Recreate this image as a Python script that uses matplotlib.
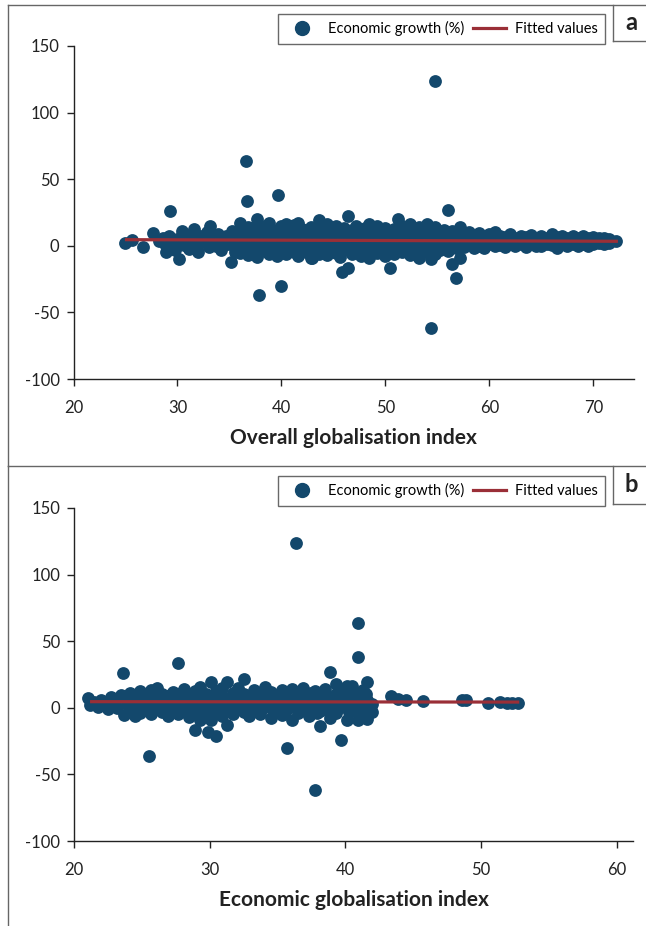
import numpy as np
import matplotlib
matplotlib.use("Agg")
import matplotlib.pyplot as plt
from matplotlib.lines import Line2D

plt.rcParams['font.family'] = ['Lato', 'DejaVu Sans']
plt.rcParams['axes.unicode_minus'] = False

W, H = 646, 926
dot_color = "#13486c"
fit_color = "#9a2f37"
frame_color = "#666666"

# panel a: overall globalisation index vs economic growth (%)
a_x = [25.0, 25.6, 26.7, 27.6, 28.2, 28.6, 28.9, 28.8,
       29.3, 29.2, 29.5, 29.8, 30.1, 30.0, 30.4, 30.6, 30.9, 31.1,
       31.3, 31.6, 31.8, 32.0, 32.2, 32.5, 32.8, 33.0, 33.1, 33.4,
       33.7, 33.9, 34.2, 34.4, 34.7, 34.9, 35.1, 35.2, 35.5,
       35.6, 35.6, 35.6,
       36.0, 36.0, 36.0, 36.0,
       36.4, 36.4, 36.4,
       36.8, 36.8, 36.8, 36.8,
       37.2, 37.2, 37.2, 37.2,
       37.6, 37.6, 37.6, 37.6,
       38.0, 38.0, 38.0, 38.0,
       38.4, 38.4, 38.4, 38.4,
       38.8, 38.8, 38.8, 38.8,
       39.2, 39.2, 39.2, 39.2,
       39.6, 39.6, 39.6, 39.6,
       40.0, 40.0, 40.0, 40.0,
       40.4, 40.4, 40.4, 40.4, 40.4,
       40.8, 40.8, 40.8, 40.8,
       41.2, 41.2, 41.2, 41.2,
       41.6, 41.6, 41.6, 41.6, 41.6,
       42.0, 42.0, 42.0, 42.0,
       42.4, 42.4, 42.4, 42.4,
       42.8, 42.8, 42.8, 42.8,
       43.2, 43.2, 43.2, 43.2,
       43.6, 43.6, 43.6, 43.6,
       44.0, 44.0, 44.0, 44.0,
       44.4, 44.4, 44.4, 44.4,
       44.8, 44.8, 44.8, 44.8,
       45.2, 45.2, 45.2, 45.2,
       45.6, 45.6, 45.6, 45.6,
       46.0, 46.0, 46.0, 46.0,
       46.4, 46.4, 46.4, 46.4, 46.4,
       46.8, 46.8, 46.8, 46.8,
       47.2, 47.2, 47.2, 47.2,
       47.6, 47.6, 47.6, 47.6,
       48.0, 48.0, 48.0, 48.0,
       48.4, 48.4, 48.4, 48.4,
       48.8, 48.8, 48.8, 48.8,
       49.2, 49.2, 49.2, 49.2,
       49.6, 49.6, 49.6, 49.6,
       50.0, 50.0, 50.0, 50.0,
       50.4, 50.4, 50.4, 50.4,
       50.8, 50.8, 50.8, 50.8,
       51.2, 51.2, 51.2, 51.2,
       51.6, 51.6, 51.6, 51.6,
       52.0, 52.0, 52.0, 52.0,
       52.4, 52.4, 52.4, 52.4,
       52.8, 52.8, 52.8, 52.8,
       53.2, 53.2, 53.2, 53.2,
       53.6, 53.6, 53.6, 53.6,
       54.0, 54.0, 54.0, 54.0,
       54.4, 54.4, 54.4, 54.4, 54.4,
       54.8, 54.8, 54.8, 54.8, 54.8,
       55.2, 55.2, 55.2, 55.2,
       55.6, 55.6, 55.6, 55.6,
       56.0, 56.0, 56.0, 56.0,
       56.4, 56.4, 56.4, 56.4,
       56.8, 56.8, 56.8, 56.8,
       57.2, 57.2, 57.2, 57.2,
       57.6, 57.6, 57.6, 58.0, 58.0, 58.0, 58.5, 58.5, 58.5,
       59.0, 59.0, 59.0, 59.5, 59.5, 59.5, 60.0, 60.0, 60.0,
       60.5, 60.5, 60.5, 61.0, 61.0, 61.0, 61.5, 61.5, 61.5,
       62.0, 62.0, 62.0, 62.5, 62.5, 62.5, 63.0, 63.0, 63.0,
       63.5, 63.5, 63.5, 64.0, 64.0, 64.0, 64.5, 64.5, 64.5,
       65.0, 65.0, 65.0, 65.5, 65.5, 65.5, 66.0, 66.0, 66.0,
       66.5, 66.5, 66.5, 67.0, 67.0, 67.0, 67.5, 67.5, 67.5,
       68.0, 68.0, 68.0, 68.5, 68.5, 68.5, 69.0, 69.0, 69.0,
       69.5, 69.5, 69.5, 70.0, 70.0, 70.0, 70.5, 70.5, 70.5,
       71.0, 71.0, 71.0, 71.5, 71.5, 71.5, 72.2,
       36.6, 36.7, 39.7, 37.8, 40.0, 42.9, 45.8]
a_y = [2.2, 4.6, -1.2, 9.5, 3.5, 5.8, -4.8, 1.0,
       26.2, 7.5, 2.0, -3.0, -10.0, 5.0, 11.0, 0.5, 8.0, -2.5,
       4.0, 12.5, 1.5, -4.5, 7.0, 3.0, 10.0, -1.0, 15.0, 5.5,
       0.0, 9.0, -3.5, 3.5, 7.5, 1.0, -12.5, 11.0, -5.0,
       4, 9, -2,
       17, 1.5, 6.5, -5.5,
       3, 11, -1,
       7, -7, 14, 2,
       0, 5, 12.5, -3,
       8.5, 20, 2.5, -8.5,
       4, -1.5, 10.5, 15,
       6, -4, 1, 13,
       9, 3, -6, 17,
       2, 7.5, -2.5, 12,
       5, 11, -8, 0.5,
       3.5, 14.5, -3.5, 8,
       6.5, 1, 10, -6.5, 16.5,
       4.5, -1, 12, 8.5,
       2, 15.5, -4.5, 6,
       9.5, 0, 17, 4, -7.5,
       5.5, 12.5, -2, 2.5,
       7, -5, 10.5, 1.5,
       3, 14, -9.5, 8,
       6, -1.5, 11.5, 2,
       19, 4.5, -6, 9,
       1, 7.5, 13, -3,
       5, 16.5, -7, 10,
       3.5, -2, 8.5, 12,
       6.5, 0.5, 14.5, -5.5,
       2, 10, -8.5, 5,
       7.5, -3.5, 13.5, 3,
       22, 4, -1, 9.5, -16.5,
       1.5, 11.5, -6.5, 6,
       5.5, 15, -2.5, 8.5,
       3, -7.5, 10.5, 0,
       7, 13, -4, 2.5,
       4.5, 9, -9, 16,
       1, 6.5, 12, -3,
       5, -5.5, 10, 14.5,
       3.5, 8, -1.5, 11.5,
       6, -8, 13.5, 2,
       4, 9.5, -3.5, -17,
       1.5, 12.5, -6.5, 7,
       20, 5.5, -1, 10.5,
       3, 14.5, -4.5, 8,
       6.5, -2, 11, 1,
       16, 4.5, -7, 9.5,
       2.5, 12, -3, 6,
       5, -9, 10, 14,
       7.5, 0.5, -5, 12.5,
       3.5, 9, -2, 16,
       -62, 6, -10, 1.5, 11.5,
       123.5, 4, -6.5, 8.5, 14,
       2, 10.5, -3.5, 6.5,
       5, -1, 12, 8,
       3, 27, 9.5, -4,
       7, -13.5, 1.5, 11,
       4.5, -24, 9, -2,
       14, 6, 0.5, -9,
       3, 8, -1, 5.5, 10, 1, 2.5, 7, -2,
       4.5, 9.5, 0, 6, 2, -1.5, 3.5, 8.5, 1,
       5, 10, -0.5, 2.5, 7.5, 0.5, 4, 6.5, -1,
       5.5, 8.5, 1.5, 3, 6, 0, 4.5, 7.5, 1,
       2.5, 6.5, -1, 5, 8, 1.5, 3.5, 6, 0,
       4.5, 7.5, -0.5, 2.5, 6, 1, 5, 8.5, 0.5,
       3.5, 6.5, -1.5, 4.5, 7, 1, 2, 5.5, 0,
       4, 7.5, 1, 3, 6, -0.5, 5, 7, 1.5,
       3.5, 5.5, 0, 4.5, 6.5, 1, 3, 5.5, 2,
       4, 6, 1.5, 3.5, 5, 2, 3.7,
       63.7, 33.7, 38.2, -36.7, -30.0, -9.0, -20.0]
a_fit_x = [25.1, 72.2]
a_fit_y = [4.6, 3.4]

# panel b: economic globalisation index vs economic growth (%)
b_x = [21.0, 21.2, 21.5, 21.8, 22.0, 22.3, 22.5, 22.7, 23.0, 23.2,
       23.5, 23.6, 23.7, 23.9,
       24.1, 24.1, 24.1, 24.5, 24.5, 24.5,
       24.9, 24.9, 24.9, 24.9, 25.3, 25.3, 25.3, 25.5,
       25.7, 25.7, 25.7, 26.1, 26.1, 26.1, 26.5, 26.5, 26.5,
       26.9, 26.9, 26.9, 27.3, 27.3, 27.3,
       27.7, 27.7, 27.7, 27.7, 28.1, 28.1, 28.1, 28.5, 28.5, 28.5,
       28.9, 28.9, 28.9, 28.9, 29.3, 29.3, 29.3, 29.3,
       29.7, 29.7, 29.7, 29.9,
       30.1, 30.1, 30.1, 30.1, 30.5, 30.5, 30.5, 30.5,
       30.9, 30.9, 30.9, 30.9, 31.3, 31.3, 31.3, 31.3,
       31.7, 31.7, 31.7, 32.1, 32.1, 32.1,
       32.5, 32.5, 32.5, 32.5, 32.9, 32.9, 32.9,
       33.3, 33.3, 33.3, 33.7, 33.7, 33.7,
       34.1, 34.1, 34.1, 34.5, 34.5, 34.5, 34.9, 34.9, 34.9,
       35.3, 35.3, 35.3, 35.7, 35.7, 35.7, 35.7,
       36.1, 36.1, 36.1, 36.1, 36.35,
       36.5, 36.5, 36.5, 36.9, 36.9, 36.9, 37.3, 37.3, 37.3,
       37.75, 37.75, 37.75, 37.75, 38.1, 38.1, 38.1,
       38.5, 38.5, 38.5, 38.9, 38.9, 38.9,
       39.3, 39.3, 39.3, 39.3, 39.7, 39.7, 39.7, 39.7,
       40.1, 40.1, 40.1, 40.1, 40.5, 40.5, 40.5, 40.5,
       40.9, 40.9, 40.9, 40.9, 40.9,
       41.3, 41.3, 41.3, 41.3, 41.6, 41.6, 41.6, 41.6,
       42.0, 42.0,
       43.4, 43.9, 44.5, 45.7, 48.6, 48.9, 50.5, 51.4, 51.9, 52.3, 52.7,
       24.3, 24.3, 24.7, 24.7, 25.1, 25.1, 25.5, 25.5, 25.9, 25.9,
       26.3, 26.3, 26.7, 26.7, 27.1, 27.1, 27.5, 27.5, 27.9, 27.9,
       28.3, 28.3, 28.7, 28.7, 29.1, 29.1, 29.5, 29.5, 29.9, 29.9,
       30.3, 30.3, 30.7, 30.7, 31.1, 31.1, 31.5, 31.5, 31.9, 31.9,
       32.3, 32.3, 32.7, 32.7, 33.1, 33.1, 33.5, 33.5, 33.9, 33.9,
       34.3, 34.3, 34.7, 34.7, 35.1, 35.1, 35.5, 35.5, 35.9, 35.9,
       36.3, 36.3, 36.7, 36.7, 37.1, 37.1, 37.5, 37.5, 37.9, 37.9,
       38.3, 38.3, 38.7, 38.7, 39.1, 39.1, 39.5, 39.5, 39.9, 39.9,
       40.3, 40.3, 40.7, 40.7, 41.1, 41.1, 41.5, 41.5]
b_y = [7.5, 2.0, 4.5, 0.5, 6.0, 2.5, -1.0, 8.0, 4.0, 0.0,
       9.5, 26.0, -5.5, 2.5,
       6, -2, 11, 3, 9, -6.5,
       0.5, 7.5, 12.5, -4, 4.5, -1.5, 10, -36,
       2, 13.5, -5, 6.5, 0, 15, 3.5, 10.5, -3.5,
       8, 1.5, -6, 5, 12, -1,
       33.7, 2.5, 9, -4.5, 6, 14, -2, 3.5, 10, -7,
       1, 8, -17, 12.5, 5.5, -9, 15.5, -2,
       3, 10.5, -5.5, -18,
       7.5, 19.5, 0, -9, 4, 12.5, -3.5, -21,
       9, 1.5, -6.5, 15, 5.5, 19, -12.7, -2,
       3, 11, -5, 7, 14.5, 0.5,
       21.5, 4, -3, 10, 1.5, 8.5, -6.5,
       6, 13, -1.5, 3.5, 10, -4.5,
       7.5, 15.5, 1, 4.5, -7.5, 11.5, 2, 9, -3,
       6.5, 13.5, -5.5, -30, 3.5, 10.5, -1,
       5, -9, 14, 8, 123.8,
       2.5, 11, -4, 6.5, 15, 0, 4, -6, 9.5,
       -62, 7, 12.5, 1, -13.5, 4.5, -2.5,
       9, 2, 14, 27, 5.5, -7.5,
       18, 3, 10.5, -4, -24, 6.5, 0.5, 12,
       16.5, 3.5, -9, 8.5, 16, 5, -1.5, 11,
       63.8, 38, -9, 7, 2,
       13.5, 4, -5, 9.5, 19.5, 1.5, -8.5, 6,
       3, -3,
       9, 6.8, 5.5, 5.3, 6, 6, 3.7, 4.5, 3.7, 3.7, 3.7,
       3.5, 8, 1, 5.5, 7, 2, 4, 9, -2, 5,
       8.5, 3, 0.5, 6, 9.5, 3.5, -1.5, 6.5, 4, 11,
       1, 7, 5, -3, 9, 2.5, 6, -1, 3, 8.5,
       1, 6, 10, 4, -2, 7.5, 5, 2, 9, -1,
       3.5, 6.5, -1, 5, 8, 2.5, 4.5, 11, 0, 6,
       3, 9.5, 5.5, -2, 1.5, 8, 4.5, -4, 7, 1,
       3, 10, 5, -1.5, 1.5, 8, 4, 11, 6, -4,
       3, 8.5, 0, 5.5, 7, 2.5, 4.5, 9, 1, 5,
       7, -3, 3, 10, 5.5, 0, 3, 10]
b_fit_x = [21.3, 52.7]
b_fit_y = [4.6, 4.3]

y_ticks = [-100, -50, 0, 50, 100, 150]


def frac(l, t, r, b):
    return [l / W, 1 - b / H, (r - l) / W, (b - t) / H]


fig = plt.figure(figsize=(W / 100, H / 100), dpi=100)

panels = [
    dict(x=a_x, y=a_y, fx=a_fit_x, fy=a_fit_y, rect=(73.5, 46, 634, 379),
         xlim=(20, 73.9), xt=[20, 30, 40, 50, 60, 70],
         xlabel="Overall globalisation index", tag="a",
         leg=(605, 14), frame=(5, 466), tagbox=(5, 41)),
    dict(x=b_x, y=b_y, fx=b_fit_x, fy=b_fit_y, rect=(74, 508, 633, 841),
         xlim=(20, 61.2), xt=[20, 30, 40, 50, 60],
         xlabel="Economic globalisation index", tag="b",
         leg=(605, 476), frame=(466, 930), tagbox=(466, 504)),
]

for p in panels:
    ax = fig.add_axes(frac(*p["rect"]))
    ax.scatter(p["x"], p["y"], s=85, color=dot_color, linewidths=0, zorder=2)
    ax.plot(p["fx"], p["fy"], color=fit_color, lw=2.3, zorder=3)
    ax.set_xlim(*p["xlim"])
    ax.set_ylim(-100, 150)
    ax.set_xticks(p["xt"])
    ax.set_yticks(y_ticks)
    for s in ["top", "right"]:
        ax.spines[s].set_visible(False)
    for s in ["left", "bottom"]:
        ax.spines[s].set_linewidth(1.0)
        ax.spines[s].set_color("#222222")
    ax.tick_params(axis="both", direction="out", length=5, width=1.0,
                   color="#222222", labelsize=12, labelcolor="#222222")
    ax.tick_params(axis="x", pad=10)
    ax.tick_params(axis="y", pad=5)
    ax.set_xlabel(p["xlabel"], fontsize=15, fontweight="bold",
                  color="#222222", labelpad=9)

    handles = [Line2D([], [], ls="none", marker="o", ms=10, color=dot_color),
               Line2D([], [], color=fit_color, lw=2.3)]
    leg = ax.legend(handles, ["Economic growth (%)", "Fitted values"],
                    ncol=2, loc="upper right",
                    bbox_to_anchor=(p["leg"][0] / W, 1 - p["leg"][1] / H),
                    bbox_transform=fig.transFigure, fontsize=10.5,
                    frameon=True, fancybox=False, borderpad=0.5,
                    handlelength=2.3, handletextpad=0.6, columnspacing=0.6,
                    borderaxespad=0)
    leg.get_frame().set_edgecolor("#444444")
    leg.get_frame().set_linewidth(1.0)

    # panel frame and tag box
    t, b = p["frame"]
    fig.add_artist(Line2D([8 / W, 8 / W], [1 - t / H, 1 - b / H],
                          color=frame_color, lw=1.0))
    fig.add_artist(Line2D([8 / W, 1], [1 - t / H, 1 - t / H],
                          color=frame_color, lw=1.0))
    tt, tb = p["tagbox"]
    fig.add_artist(Line2D([613 / W, 613 / W], [1 - tt / H, 1 - tb / H],
                          color=frame_color, lw=1.0))
    fig.add_artist(Line2D([613 / W, 1], [1 - tb / H, 1 - tb / H],
                          color=frame_color, lw=1.0))
    fig.text(631 / W, 1 - (tt + tb) / 2 / H, p["tag"], fontsize=17,
             fontweight="bold", ha="center", va="center", color="#222222")

fig.savefig("out.png", dpi=100)
